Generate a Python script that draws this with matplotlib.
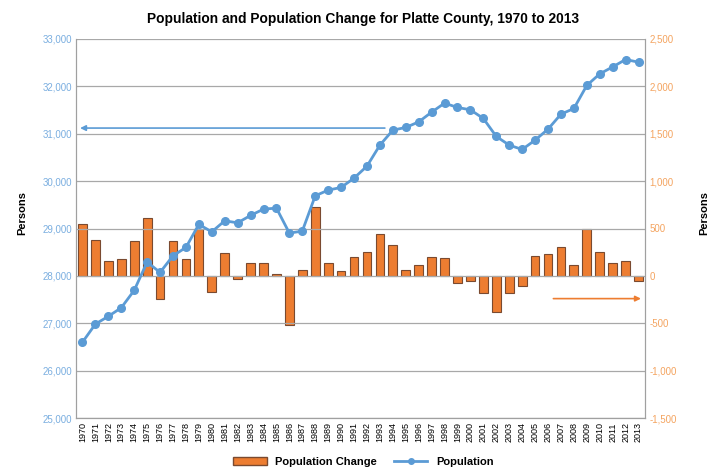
import numpy as np
import matplotlib
matplotlib.use("Agg")
from matplotlib import pyplot as plt
from matplotlib.patches import Patch
from matplotlib.lines import Line2D

years = list(range(1970, 2014))
population = [26600, 26983, 27146, 27327, 27694, 28291, 28073, 28424, 28600, 29086,
              28930, 29162, 29120, 29276, 29409, 29430, 28903, 28945, 29690, 29810,
              29867, 30063, 30316, 30760, 31076, 31133, 31250, 31456, 31646, 31555,
              31505, 31322, 30943, 30760, 30668, 30865, 31097, 31413, 31533, 32020,
              32264, 32411, 32567, 32511]
pop_change = [548, 380, 162, 183, 363, 616, -239, 363, 173, 493,
              -165, 240, -38, 141, 131, 18, -523, 57, 722, 134,
              50, 194, 257, 437, 321, 57, 120, 197, 187, -80,
              -56, -183, -376, -183, -102, 205, 236, 310, 120, 490,
              247, 137, 155, -59]

left_ticks = [25000, 26000, 27000, 28000, 29000, 30000, 31000, 32000, 33000]
right_ticks = [-1500, -1000, -500, 0, 500, 1000, 1500, 2000, 2500]

blue = '#5B9BD5'
orange = '#ED7D31'

plt.rcParams['font.family'] = ['Liberation Sans', 'DejaVu Sans']

fig = plt.figure(figsize=(7.27, 4.67), dpi=100)
ax = fig.add_axes([76 / 727, 1 - 418 / 467, (645 - 76) / 727, (418 - 39) / 467])
ax2 = ax.twinx()

x = np.arange(len(years))

# bars on the right axis, line on the left axis drawn above
ax2.bar(x, pop_change, width=0.68, color=orange, edgecolor='#7a4a30', linewidth=0.8, zorder=2)
ax2.set_ylim(-1500, 2500)
ax2.set_yticks(right_ticks)
ax2.set_yticklabels([f'{t:,}' for t in right_ticks], color='#F4A460', fontsize=7)
ax2.set_ylabel('Persons', fontsize=8, fontweight='bold', rotation=90)
ax2.yaxis.set_label_coords(1.095, 0.54)

ax.set_zorder(ax2.get_zorder() + 1)
ax.patch.set_visible(False)
ax.plot(x, population, color=blue, linewidth=2, marker='o', markersize=5.5, zorder=3)
ax.set_ylim(25000, 33000)
ax.set_yticks(left_ticks)
ax.set_yticklabels([f'{t:,}' for t in left_ticks], color='#7AAEE0', fontsize=7)
ax.set_ylabel('Persons', fontsize=8, fontweight='bold')
ax.yaxis.set_label_coords(-0.085, 0.54)
ax.grid(axis='y', color='#a8a8a8', linewidth=0.9)
ax.set_axisbelow(True)

ax.set_xlim(-0.5, len(years) - 0.5)
ax.set_xticks(x)
ax.set_xticklabels([str(y) for y in years], rotation=90, fontsize=6.5)

for a in (ax, ax2):
    a.tick_params(length=0, pad=3)
    for s in a.spines.values():
        s.set_color('#a0a0a0')
    a.spines['top'].set_visible(False)

# arrows pointing to the axes
ax.annotate('', xy=(-0.4, 31120), xytext=(23.6, 31120),
            arrowprops=dict(arrowstyle='-|>', color=blue, lw=1.2, mutation_scale=8), zorder=4)
ax2.annotate('', xy=(43.4, -240), xytext=(36.2, -240),
             arrowprops=dict(arrowstyle='-|>', color=orange, lw=1.2, mutation_scale=8), zorder=4)

fig.suptitle('Population and Population Change for Platte County, 1970 to 2013',
             x=0.5, y=0.975, fontsize=9.9, fontweight='bold')

handles = [Patch(facecolor=orange, edgecolor='#7a4a30'),
           Line2D([0], [0], color=blue, lw=2, marker='o', markersize=4)]
leg = fig.legend(handles, ['Population Change', 'Population'], loc='lower center',
                 bbox_to_anchor=(0.5, -0.022), ncol=2, frameon=False,
                 prop={'size': 8, 'weight': 'bold'}, handlelength=3, columnspacing=1.5)

fig.savefig('out.png', dpi=100)
